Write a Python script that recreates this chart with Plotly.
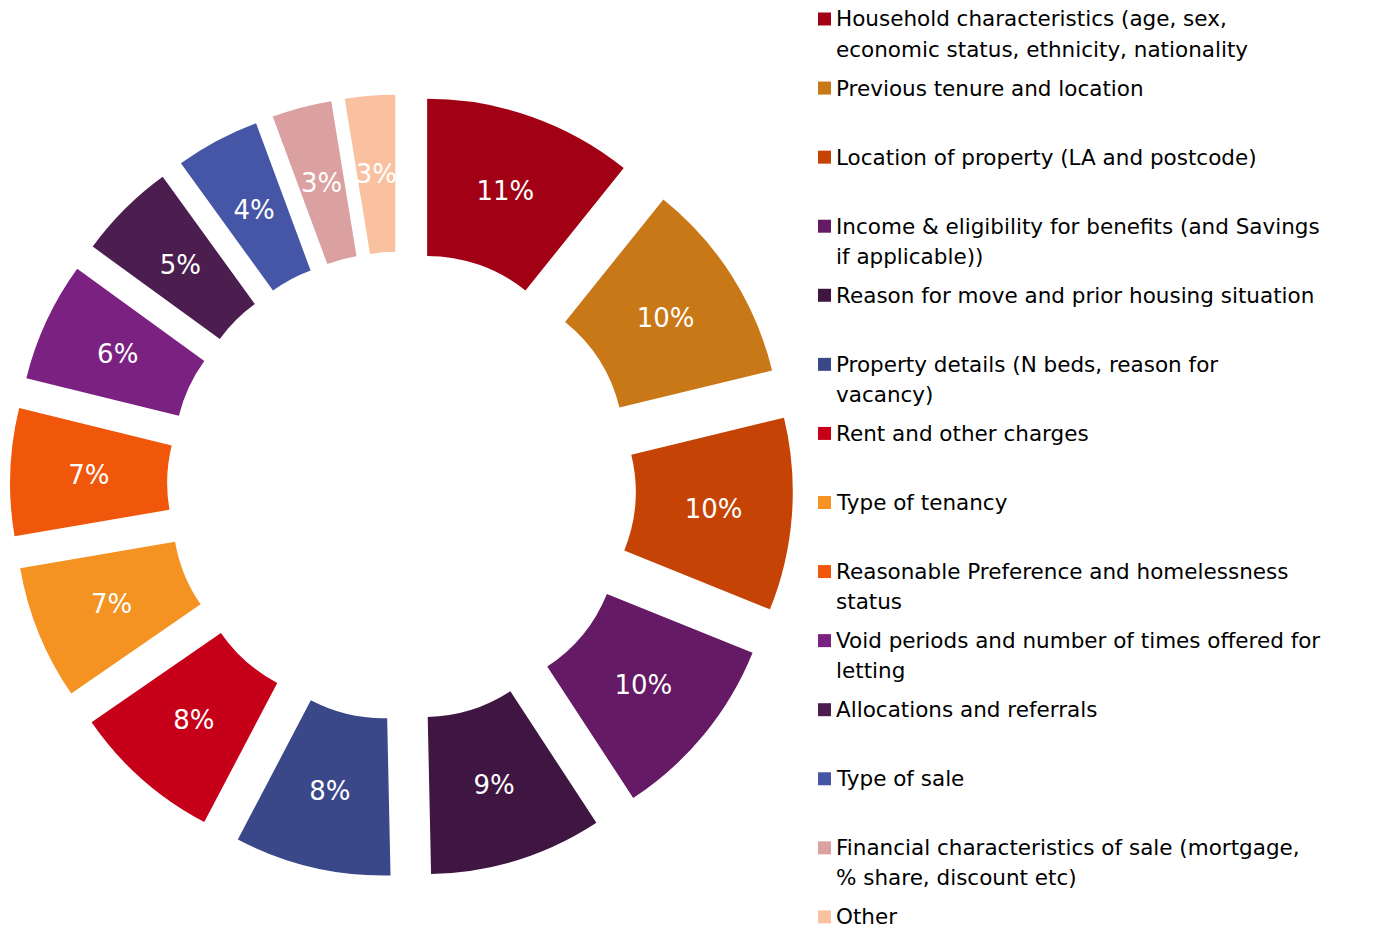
import math
import plotly.graph_objects as go

# data (shares in %; labels show them rounded)
categories = [
    "Household characteristics (age, sex,<br>economic status, ethnicity, nationality",
    "Previous tenure and location",
    "Location of property (LA and postcode)",
    "Income & eligibility for benefits (and Savings<br>if applicable))",
    "Reason for move and prior housing situation",
    "Property details (N beds, reason for<br>vacancy)",
    "Rent and other charges",
    "Type of tenancy",
    "Reasonable Preference and homelessness<br>status",
    "Void periods and number of times offered for<br>letting",
    "Allocations and referrals",
    "Type of sale",
    "Financial characteristics of sale (mortgage,<br>% share, discount etc)",
    "Other",
]
shares = [10.76, 10.46, 9.89, 9.67, 8.88, 8.03, 7.70, 6.91, 6.55, 6.15, 5.03, 4.33, 3.07, 2.57]
colours = [
    "#A20014", "#C97818", "#C54304", "#641A64", "#3E1641", "#3A4889", "#C7001A",
    "#F49222", "#F0570A", "#7A2181", "#4C1E50", "#4656A6", "#DBA0A0", "#F9C19F",
]

W, H = 1391, 929
FONT = "DejaVu Sans"
labels = [c.replace("<br>", " ") for c in categories]
total = sum(shares)
pct_text = ["{:.0f}%".format(v / total * 100) for v in shares]

# doughnut geometry (px)
cx, cy, half = 393.5, 478, 391.5
pull = 0.246
hole = 0.5
r = half / (1 + pull)          # radius plotly will use
shift = pull * r               # explode distance
r_mid = r * (1 + hole) / 2     # Excel puts labels mid-ring


def box(h):
    return dict(x=[(cx - h) / W, (cx + h) / W],
                y=[(H - cy - h) / H, (H - cy + h) / H])


fig = go.Figure()
fig.add_trace(go.Pie(
    labels=labels,
    values=shares,
    sort=False,
    direction="clockwise",
    rotation=0,
    hole=hole,
    pull=pull,
    marker=dict(colors=colours, line=dict(width=0)),
    textinfo="none",
    hovertemplate="%{label}<br>%{percent:.0%}<extra></extra>",
    showlegend=False,
    domain=box(half),
))

# transparent helper pie: a thin slice in the middle of every share carries
# its % label, so plotly centres the text on the slice bisector at mid-ring
w = 0.4
lab_vals, lab_text = [], []
for v, t in zip(shares, pct_text):
    lab_vals += [(v - w) / 2, w, (v - w) / 2]
    lab_text += ["", t, ""]
r_c = 1 - 1 / (1 + 1 / math.sin(math.pi * w / total))
r2 = r_mid / r_c
pull2 = shift / r2
fig.add_trace(go.Pie(
    values=lab_vals,
    labels=[str(i) for i in range(len(lab_vals))],
    sort=False,
    direction="clockwise",
    rotation=0,
    pull=pull2,
    marker=dict(colors=["rgba(0,0,0,0)"] * len(lab_vals), line=dict(width=0)),
    text=lab_text,
    textinfo="text",
    textposition="inside",
    insidetextorientation="horizontal",
    textfont=dict(family=FONT, size=26, color="white"),
    hoverinfo="skip",
    showlegend=False,
    domain=box(r2 * (1 + pull2)),
))

# legend drawn by hand: Excel spaces entries evenly regardless of wrapping
step = 69.07
first = 11
line_gap = 30
annotations = []
shapes = []
for i, (name, col) in enumerate(zip(categories, colours)):
    yc = first + step * i
    shapes.append(dict(type="rect", xref="paper", yref="paper",
                       x0=810 / W, x1=823 / W,
                       y0=1 - (yc + 6.5) / H, y1=1 - (yc - 6.5) / H,
                       fillcolor=col, line=dict(width=0)))
    for k, part in enumerate(name.split("<br>")):
        annotations.append(dict(xref="paper", yref="paper",
                                x=827 / W, y=1 - (yc + line_gap * k) / H,
                                xanchor="left", yanchor="middle", align="left",
                                text=part, showarrow=False, borderpad=0,
                                font=dict(family=FONT, size=21.5, color="#000000")))

fig.update_layout(
    width=W, height=H,
    margin=dict(l=0, r=0, t=0, b=0),
    paper_bgcolor="white",
    plot_bgcolor="white",
    uniformtext=dict(minsize=26, mode="show"),
    annotations=annotations,
    shapes=shapes,
)

fig.write_html("out.html")
